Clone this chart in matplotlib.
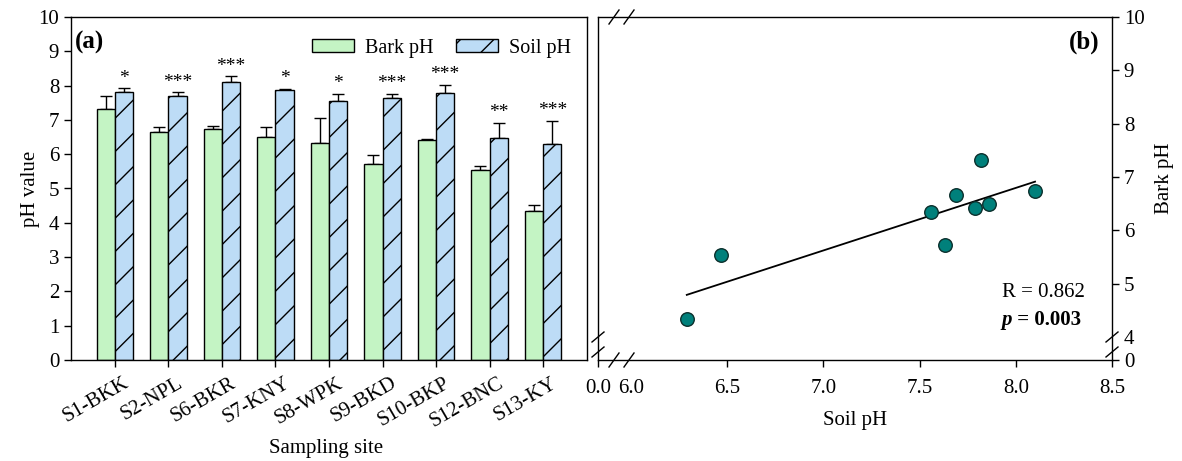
import numpy as np
import matplotlib
matplotlib.use("Agg")
import matplotlib.pyplot as plt
import matplotlib.transforms as mtransforms
from matplotlib.patches import Patch

plt.rcParams['font.family'] = ['Liberation Serif', 'DejaVu Serif']
plt.rcParams['hatch.linewidth'] = 1.0

sites = ['S1-BKK', 'S2-NPL', 'S6-BKR', 'S7-KNY', 'S8-WPK', 'S9-BKD', 'S10-BKP', 'S12-BNC', 'S13-KY']
bark_ph = [7.31, 6.66, 6.73, 6.50, 6.34, 5.72, 6.41, 5.54, 4.33]
bark_err = [0.40, 0.12, 0.09, 0.29, 0.72, 0.25, 0.03, 0.11, 0.19]
soil_ph = [7.82, 7.69, 8.10, 7.86, 7.56, 7.63, 7.79, 6.47, 6.29]
soil_err = [0.10, 0.11, 0.17, 0.04, 0.20, 0.12, 0.23, 0.45, 0.69]
signif = ['*', '***', '***', '*', '*', '***', '***', '**', '***']

W, H = 1182, 461
fig = plt.figure(figsize=(W / 100, H / 100), dpi=100)


def px_axes(x0, y0, x1, y1):
    return fig.add_axes([x0 / W, 1 - y1 / H, (x1 - x0) / W, (y1 - y0) / H])


# ---- panel (a) ----
ax = px_axes(71, 17, 587, 360)
x = np.arange(len(sites))
bw = 0.34
green = '#c4f4c4'
blue = '#bddcf6'
ax.bar(x - bw / 2, bark_ph, bw, color=green, edgecolor='black', lw=1, zorder=2)
ax.bar(x + bw / 2, soil_ph, bw, color=blue, edgecolor='black', lw=1, hatch='/', zorder=2)
ax.errorbar(x - bw / 2, bark_ph, yerr=[np.zeros(len(x)), bark_err], fmt='none',
            ecolor='black', elinewidth=1, capsize=4, capthick=1, zorder=1)
ax.errorbar(x + bw / 2, soil_ph, yerr=[np.zeros(len(x)), soil_err], fmt='none',
            ecolor='black', elinewidth=1, capsize=4, capthick=1, zorder=1)
for i in range(len(x)):
    ax.text(x[i] + bw / 2, soil_ph[i] + soil_err[i] + 0.05, signif[i],
            ha='center', va='bottom', fontsize=14)

ax.set_xlim(-0.82, 8.82)
ax.set_ylim(0, 10)
ax.set_yticks(range(0, 11))
ax.set_xticks(x)
ax.set_xticklabels(sites, rotation=30, ha='right', rotation_mode='anchor')
ax.tick_params(labelsize=15, direction='out', length=5, width=1)
ax.tick_params(axis='x', pad=5)
shift = mtransforms.ScaledTranslation(8 / 100, 0, fig.dpi_scale_trans)
for lab in ax.get_xticklabels():
    lab.set_transform(lab.get_transform() + shift)
for s in ax.spines.values():
    s.set_linewidth(1)
ax.set_ylabel('pH value', fontsize=15)
ax.yaxis.set_label_coords(-0.079, 0.5)
ax.set_xlabel('Sampling site', fontsize=15)
ax.xaxis.set_label_coords(0.495, -0.257)
ax.xaxis.label.set_va('center')
ax.yaxis.label.set_va('center')
ax.text(0.008, 0.96, '(a)', transform=ax.transAxes, fontsize=18, fontweight='bold',
        ha='left', va='top')
handles = [Patch(facecolor=green, edgecolor='black', label='Bark pH'),
           Patch(facecolor=blue, edgecolor='black', hatch='/', label='Soil pH')]
ax.legend(handles=handles, loc='upper right', ncol=2, frameon=False, fontsize=14.5,
          bbox_to_anchor=(1.005, 0.99), handlelength=2.1, handleheight=0.6,
          columnspacing=1.1, handletextpad=0.55)

# ---- panel (b) ----
bx = px_axes(598, 17, 1112, 360)
bx.scatter(soil_ph, bark_ph, s=95, color='#00807b', edgecolor='#0b2f2c', lw=1, zorder=3)
k, b = np.polyfit(soil_ph, bark_ph, 1)
xs = np.array([min(soil_ph), max(soil_ph)])
bx.plot(xs, k * xs + b, color='black', lw=1.3, zorder=2)

x_lo = 6.0 - 33 / 192.5
y_lo = 4 - 23 / 53.3
bx.set_xlim(x_lo, 8.5)
bx.set_ylim(y_lo, 10)
bx.set_xticks([x_lo, 6.0, 6.5, 7.0, 7.5, 8.0, 8.5])
bx.set_xticklabels(['0.0', '6.0', '6.5', '7.0', '7.5', '8.0', '8.5'])
bx.set_yticks([y_lo, 4, 5, 6, 7, 8, 9, 10])
bx.set_yticklabels(['0', '4', '5', '6', '7', '8', '9', '10'])
bx.yaxis.tick_right()
bx.yaxis.set_label_position('right')
bx.tick_params(labelsize=15, direction='out', length=5, width=1)
bx.tick_params(axis='x', pad=9)
xt = bx.xaxis.get_major_ticks()
xt[1].tick1line.set_visible(False)
yt = bx.yaxis.get_major_ticks()
yt[1].tick2line.set_visible(False)
for s in bx.spines.values():
    s.set_linewidth(1)
bx.set_xlabel('Soil pH', fontsize=15)
bx.xaxis.set_label_coords(0.5, -0.175)
bx.xaxis.label.set_va('center')
bx.set_ylabel('Bark pH', fontsize=15, rotation=90)
bx.yaxis.set_label_coords(1.103, 0.53)
bx.yaxis.label.set_va('center')
bx.text(0.975, 0.96, '(b)', transform=bx.transAxes, fontsize=18, fontweight='bold',
        ha='right', va='top')
bx.text(0.947, 0.197, 'R = 0.862', transform=bx.transAxes, fontsize=15, ha='right', va='center')
t = bx.text(0.94, 0.117, ' = 0.003', transform=bx.transAxes, fontsize=15, fontweight='bold',
            ha='right', va='center')
bx.annotate('p', xy=(0, 0.5), xycoords=t, fontsize=15, fontweight='bold', style='italic',
            ha='right', va='center')

# break marks (in pixel space)
def slash(xc, yc, dx=5, dy=7):
    fig.add_artist(plt.Line2D([(xc - dx) / W, (xc + dx) / W],
                              [1 - (yc + dy) / H, 1 - (yc - dy) / H],
                              color='black', lw=1))

for xc in (614, 629):
    slash(xc, 17)
    slash(xc, 360)
for yc in (337, 352):
    slash(598, yc, 6, 5)
    slash(1112, yc, 6, 5)

fig.savefig('out.png', dpi=100)
